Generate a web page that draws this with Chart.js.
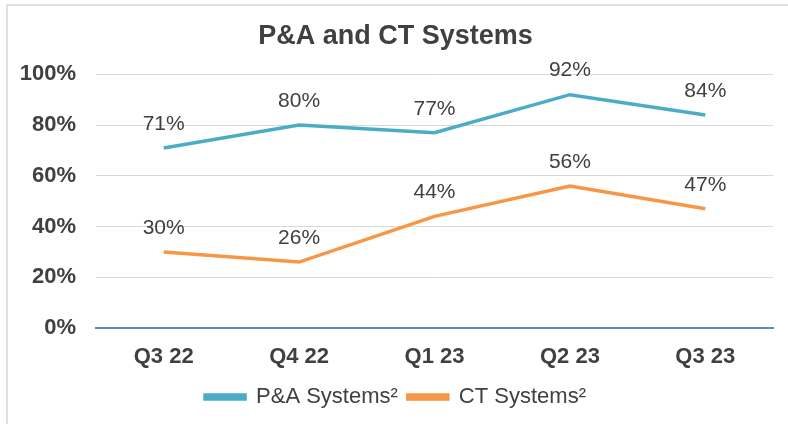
<!DOCTYPE html>
<html lang="en">
<head>
  <meta charset="UTF-8">
  <title>P&amp;A and CT Systems</title>
  <script src="https://cdn.jsdelivr.net/npm/chart.js"></script>
  <style>
    html, body {
      margin: 0;
      padding: 0;
      background: #fff;
      overflow: hidden;
    }
    .wrap {
      position: relative;
      width: 788px;
      height: 424px;
    }
    .frame {
      position: absolute;
      left: 6px;
      top: 4px;
      width: 900px;
      height: 600px;
      border: 2px solid #e0e0e0;
      pointer-events: none;
    }
  </style>
</head>
<body>
  <div class="wrap">
    <canvas id="chart" width="788" height="424"></canvas>
    <div class="frame"></div>
  </div>

  <script>
    const quarters = ['Q3 22', 'Q4 22', 'Q1 23', 'Q2 23', 'Q3 23'];
    const paSystems = [71, 80, 77, 92, 84];
    const ctSystems = [30, 26, 44, 56, 47];
    const yTicks = [0, 20, 40, 60, 80, 100];

    const textColor = '#404040';
    const fontFamily = '"Liberation Sans", Arial, sans-serif';

    // value labels above each point
    const pointLabels = {
      id: 'pointLabels',
      afterDatasetsDraw(chart) {
        const ctx = chart.ctx;
        ctx.save();
        ctx.font = '21px ' + fontFamily;
        ctx.fillStyle = textColor;
        ctx.textAlign = 'center';
        ctx.textBaseline = 'middle';
        chart.data.datasets.forEach((ds, i) => {
          chart.getDatasetMeta(i).data.forEach((pt, j) => {
            ctx.fillText(ds.data[j] + '%', pt.x, pt.y - 24);
          });
        });
        ctx.restore();
      }
    };

    new Chart(document.getElementById('chart'), {
      type: 'line',
      data: {
        labels: quarters,
        datasets: [
          {
            label: 'P&A Systems²',
            data: paSystems,
            borderColor: '#4bacc6',
            backgroundColor: '#4bacc6',
            borderWidth: 3.5,
            pointRadius: 0,
            tension: 0
          },
          {
            label: 'CT Systems²',
            data: ctSystems,
            borderColor: '#f79646',
            backgroundColor: '#f79646',
            borderWidth: 3.5,
            pointRadius: 0,
            tension: 0
          }
        ]
      },
      options: {
        responsive: false,
        animation: false,
        layout: { padding: { left: 18, right: 15, top: 0, bottom: 6 } },
        plugins: {
          title: {
            display: true,
            text: 'P&A and CT Systems',
            color: textColor,
            font: { family: fontFamily, size: 27, weight: 'bold' },
            padding: { top: 20, bottom: 22 }
          },
          legend: {
            position: 'bottom',
            labels: {
              color: textColor,
              font: { family: fontFamily, size: 22 },
              boxWidth: 40,
              boxHeight: 4,
              padding: 10
            }
          },
          tooltip: { enabled: false }
        },
        scales: {
          x: {
            offset: true,
            grid: { display: false, drawTicks: false },
            border: { display: true, color: '#5b8bc6', width: 2 },
            ticks: {
              color: textColor,
              padding: 16,
              font: { family: fontFamily, size: 22, weight: 'bold' }
            },
            afterFit(scale) { scale.height = 48; }
          },
          y: {
            min: 0,
            max: 100,
            afterBuildTicks(scale) {
              scale.ticks = yTicks.map(v => ({ value: v }));
            },
            grid: {
              drawTicks: false,
              color: ctx => ctx.tick && ctx.tick.value === 0 ? 'rgba(0,0,0,0)' : '#d9d9d9',
              lineWidth: 1
            },
            border: { display: false },
            ticks: {
              color: textColor,
              padding: 20,
              font: { family: fontFamily, size: 22, weight: 'bold' },
              callback: v => v + '%'
            },
            afterFit(scale) { scale.width = 78; }
          }
        }
      },
      plugins: [pointLabels]
    });
  </script>
</body>
</html>
